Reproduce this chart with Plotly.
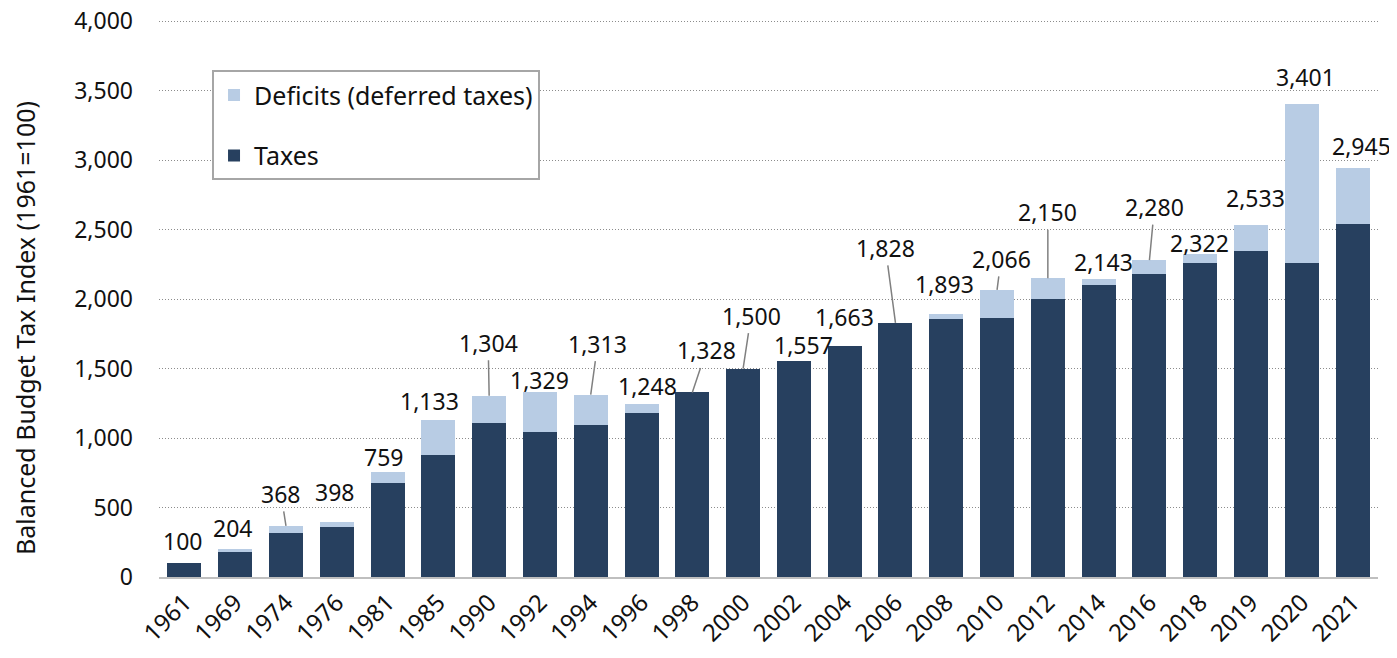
import plotly.graph_objects as go

years = ["1961", "1969", "1974", "1976", "1981", "1985", "1990", "1992", "1994", "1996",
         "1998", "2000", "2002", "2004", "2006", "2008", "2010", "2012", "2014", "2016",
         "2018", "2019", "2020", "2021"]
totals = [100, 204, 368, 398, 759, 1133, 1304, 1329, 1313, 1248,
          1328, 1500, 1557, 1663, 1828, 1893, 2066, 2150, 2143, 2280,
          2322, 2533, 3401, 2945]
taxes = [100, 183, 318, 358, 674, 878, 1108, 1043, 1096, 1183,
         1328, 1500, 1557, 1663, 1828, 1859, 1861, 2002, 2103, 2180,
         2257, 2345, 2257, 2543]
deficits = [t - x for t, x in zip(totals, taxes)]

# label placement: (dx px, dy px above bar top, leader line?)
label_place = [(-2, 22, False), (-3, 21, False), (-5, 32, True), (-2, 30, False),
               (-4, 15, False), (-9, 19, False), (-1, 53, True), (0, 12, False),
               (7, 51, True), (6, 18, False), (14, 42, True), (8, 53, True),
               (10, 16, False), (0, 29, False), (-10, 75, True), (-2, 30, False),
               (4, 31, True), (0, 66, True), (5, 17, False), (5, 53, True),
               (-1, 11, False), (4, 27, False), (4, 27, False), (9, 22, False)]

FONT = "Noto Sans"
DARK = "#27405f"
LIGHT = "#b8cce4"

fig = go.Figure()
fig.add_trace(go.Bar(x=years, y=taxes, name="Taxes", marker=dict(color=DARK, line=dict(width=0)),
                     legendgroup="t", legendrank=2))
fig.add_trace(go.Bar(x=years, y=deficits, name="Deficits (deferred taxes)",
                     marker=dict(color=LIGHT, line=dict(width=0)), legendgroup="d", legendrank=1))

annotations = []
for i, (tot, (dx, up, line)) in enumerate(zip(totals, label_place)):
    txt = f"{tot:,}"
    if line:
        annotations.append(dict(x=i, y=tot, xref="x", yref="y", text=txt, showarrow=True,
                                arrowhead=0, arrowwidth=1.5, arrowcolor="#808080",
                                ax=dx, ay=-up, axref="pixel", ayref="pixel",
                                font=dict(size=23, color="#111111", family=FONT)))
    else:
        annotations.append(dict(x=i, y=tot, xref="x", yref="y", text=txt, showarrow=False,
                                xshift=dx, yshift=up, yanchor="middle",
                                font=dict(size=23, color="#111111", family=FONT)))

annotations.append(dict(x=-0.11, y=0.447, xref="paper", yref="paper",
                        xanchor="center", yanchor="middle",
                        text="Balanced Budget Tax Index (1961=100)", textangle=-90,
                        showarrow=False, font=dict(size=25, color="#111111", family=FONT)))

fig.update_layout(
    barmode="stack",
    bargap=0.33,
    width=1389, height=650,
    margin=dict(l=151, r=19, t=12, b=81, autoexpand=False),
    plot_bgcolor="white", paper_bgcolor="white",
    font=dict(family=FONT, size=23, color="#111111"),
    showlegend=True,
    legend=dict(x=0.0435, y=0.91, xanchor="left", yanchor="top",
                bgcolor="white", bordercolor="#a6a6a6", borderwidth=2,
                traceorder="grouped", tracegroupgap=25,
                font=dict(size=25, family=FONT, color="#111111")),
    annotations=annotations,
    xaxis=dict(type="category", range=[-0.5, 23.5], autorange=False, tickangle=-45,
               automargin=False,
               showgrid=False, showline=True, linecolor="#bfbfbf", linewidth=2,
               tickfont=dict(size=24, family=FONT), ticks=""),
    yaxis=dict(range=[0, 4008], autorange=False, tick0=0, dtick=500, tickformat=",",
               showgrid=True, automargin=False, ticklabeloverflow="allow",
               gridcolor="#8c8c8c", gridwidth=1, griddash="1px,2px",
               zeroline=False, showline=False, ticks="",
               ticklabelstandoff=25,
               tickfont=dict(size=23, family=FONT)),
)

fig.write_html("out.html")
